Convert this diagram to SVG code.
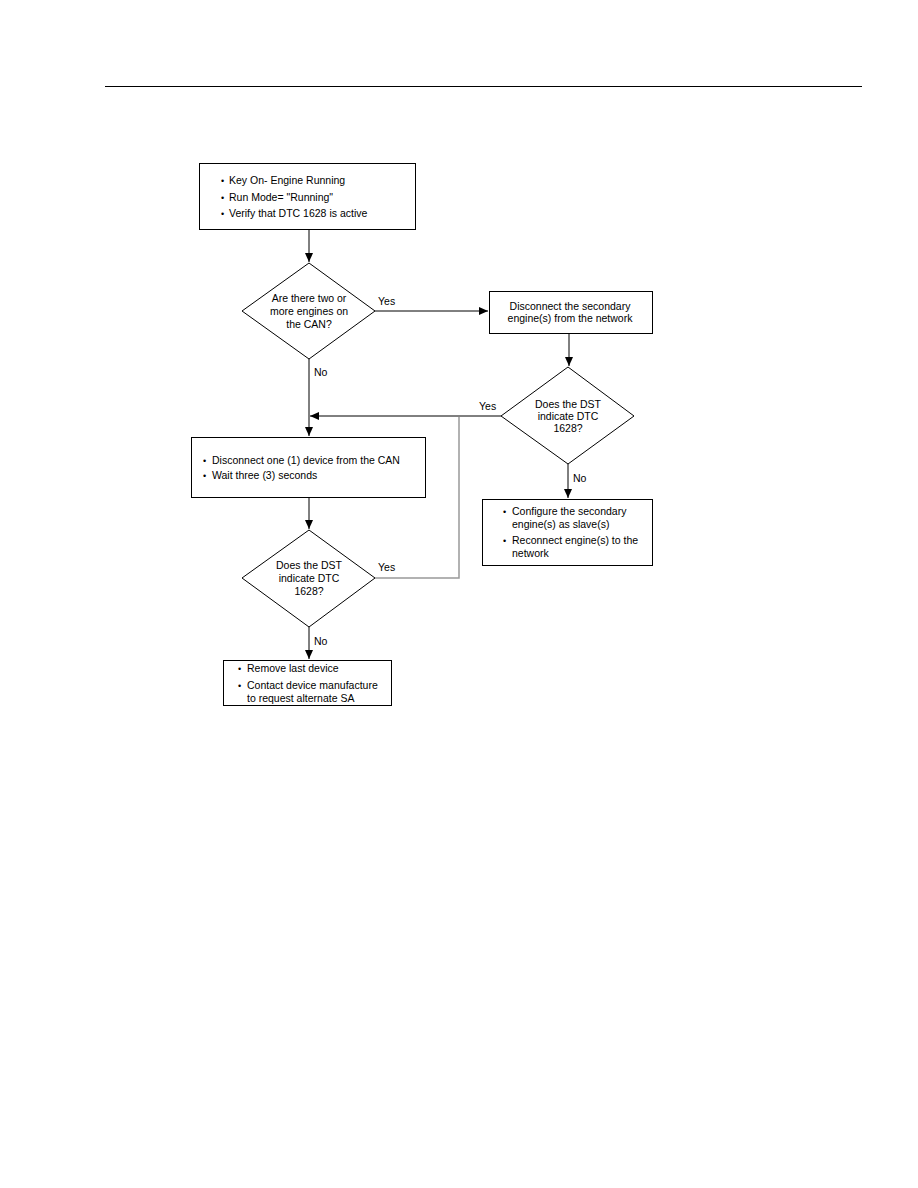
<svg xmlns="http://www.w3.org/2000/svg" width="918" height="1188" viewBox="0 0 918 1188">
<defs>
<marker id="ah" markerWidth="10" markerHeight="10" refX="9" refY="5" orient="auto" markerUnits="userSpaceOnUse">
<path d="M0,1 L9,5 L0,9 Z" fill="#000"/>
</marker>
<style>
.box{fill:#fff;stroke:#000;stroke-width:1}
.t{font-family:"Liberation Sans",Arial,sans-serif;font-size:10.5px;fill:#000}
.b{font-size:9px}
.c{text-anchor:middle}
.ln{fill:none;stroke:#000;stroke-width:1}
.gl{fill:none;stroke:#999;stroke-width:1.5}
</style>
</defs>
<rect width="918" height="1188" fill="#fff"/>
<line x1="105" y1="86.5" x2="862" y2="86.5" stroke="#000" stroke-width="1"/>

<g id="connectors">
<line class="ln" x1="309" y1="229" x2="309" y2="262" marker-end="url(#ah)"/>
<line class="ln" x1="375" y1="311" x2="488" y2="311" marker-end="url(#ah)"/>
<line class="ln" x1="569" y1="333" x2="569" y2="366" marker-end="url(#ah)"/>
<line class="ln" x1="501" y1="416" x2="310" y2="416" marker-end="url(#ah)"/>
<line class="ln" x1="309" y1="359" x2="309" y2="436" marker-end="url(#ah)"/>
<line class="ln" x1="309" y1="497" x2="309" y2="529" marker-end="url(#ah)"/>
<line class="ln" x1="309" y1="627" x2="309" y2="659" marker-end="url(#ah)"/>
<line class="ln" x1="568" y1="464" x2="568" y2="498" marker-end="url(#ah)"/>
<polyline class="gl" points="375,578 459,578 459,417"/>
<text class="t" x="378" y="305">Yes</text>
<text class="t" x="314" y="376">No</text>
<text class="t" x="479" y="410">Yes</text>
<text class="t" x="573" y="482">No</text>
<text class="t" x="378" y="571">Yes</text>
<text class="t" x="314" y="645">No</text>
</g>

<g id="start">
<rect class="box" x="199.5" y="163.5" width="216" height="66"/>
<text class="t b" x="221" y="184">•</text><text class="t" x="229" y="184">Key On- Engine Running</text>
<text class="t b" x="221" y="201">•</text><text class="t" x="229" y="201">Run Mode= "Running"</text>
<text class="t b" x="221" y="217">•</text><text class="t" x="229" y="217">Verify that DTC 1628 is active</text>
</g>

<g id="dec1">
<polygon class="box" points="309,263 375,311 309,359 242,311"/>
<text class="t c" x="309" y="302">Are there two or</text>
<text class="t c" x="309" y="315">more engines on</text>
<text class="t c" x="309" y="328">the CAN?</text>
</g>

<g id="disconnect-secondary">
<rect class="box" x="489.5" y="291.5" width="163" height="42"/>
<text class="t c" x="570" y="310">Disconnect the secondary</text>
<text class="t c" x="570" y="322">engine(s) from the network</text>
</g>

<g id="dec2">
<polygon class="box" points="568,367 634,416 568,464 501,416"/>
<text class="t c" x="568" y="408">Does the DST</text>
<text class="t c" x="568" y="420">indicate DTC</text>
<text class="t c" x="568" y="432">1628?</text>
</g>

<g id="disconnect-device">
<rect class="box" x="191.5" y="437.5" width="234" height="60"/>
<text class="t b" x="203" y="464">•</text><text class="t" x="212" y="464">Disconnect one (1) device from the CAN</text>
<text class="t b" x="203" y="479">•</text><text class="t" x="212" y="479">Wait three (3) seconds</text>
</g>

<g id="configure">
<rect class="box" x="482.5" y="499.5" width="170" height="66"/>
<text class="t b" x="503" y="515">•</text><text class="t" x="512" y="515">Configure the secondary</text>
<text class="t" x="512" y="528">engine(s) as slave(s)</text>
<text class="t b" x="503" y="544">•</text><text class="t" x="512" y="544">Reconnect engine(s) to the</text>
<text class="t" x="512" y="557">network</text>
</g>

<g id="dec3">
<polygon class="box" points="309,530 375,578 309,627 242,578"/>
<text class="t c" x="309" y="569">Does the DST</text>
<text class="t c" x="309" y="582">indicate DTC</text>
<text class="t c" x="309" y="595">1628?</text>
</g>

<g id="remove">
<rect class="box" x="223.5" y="660.5" width="168" height="45"/>
<text class="t b" x="238" y="672">•</text><text class="t" x="247" y="672">Remove last device</text>
<text class="t b" x="238" y="689">•</text><text class="t" x="247" y="689">Contact device manufacture</text>
<text class="t" x="247" y="702">to request alternate SA</text>
</g>
</svg>
